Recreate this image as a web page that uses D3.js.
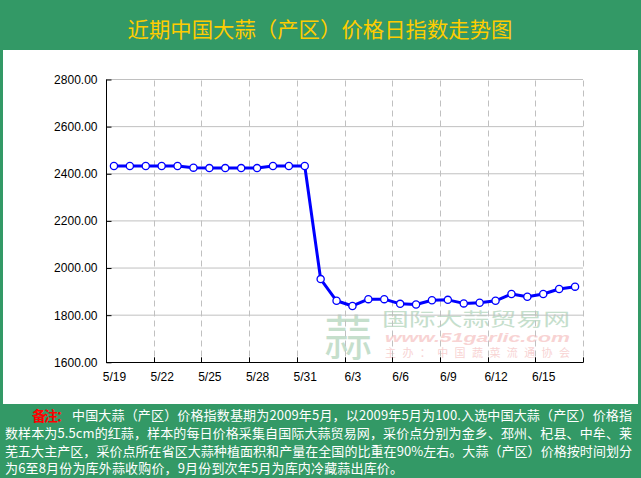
<!DOCTYPE html>
<html><head><meta charset="utf-8">
<script src="https://cdn.jsdelivr.net/npm/d3@7"></script>
<style>
html,body{margin:0;padding:0;background:#fff;}
svg{display:block;}
</style></head>
<body>
<script>
const titleText = "近期中国大蒜（产区）价格日指数走势图";
const dates = ["5/19","5/20","5/21","5/22","5/23","5/24","5/25","5/26","5/27","5/28","5/29","5/30","5/31",
  "6/1","6/2","6/3","6/4","6/5","6/6","6/7","6/8","6/9","6/10","6/11","6/12","6/13","6/14","6/15","6/16","6/17"];
const values = [2433,2433,2433,2433,2433,2426,2424,2424,2424,2424,2433,2433,2433,
  1953,1861,1839,1868,1868,1848,1845,1863,1865,1850,1853,1861,1890,1878,1890,1911,1921];
const xTickLabels = ["5/19","5/22","5/25","5/28","5/31","6/3","6/6","6/9","6/12","6/15"];
const yTicks = [1600,1800,2000,2200,2400,2600,2800];
const noteLabel = "备注：";
const noteLines = [
  "中国大蒜（产区）价格指数基期为2009年5月，以2009年5月为100.入选中国大蒜（产区）价格指",
  "数样本为5.5cm的红蒜，样本的每日价格采集自国际大蒜贸易网，采价点分别为金乡、邳州、杞县、中牟、莱",
  "芜五大主产区，采价点所在省区大蒜种植面积和产量在全国的比重在90%左右。大蒜（产区）价格按时间划分",
  "为6至8月份为库外蒜收购价，9月份到次年5月为库内冷藏蒜出库价。"
];

const W = 641, H = 478;
const green = "#339966";
const svg = d3.select("body").append("svg").attr("width", W).attr("height", H);
const cjk = "'Noto Sans CJK SC', sans-serif";
const latin = "'Liberation Sans', Arial, sans-serif";

// background frame
svg.append("rect").attr("x",0).attr("y",0).attr("width",W).attr("height",H).attr("fill",green);
svg.append("rect").attr("x",3).attr("y",50).attr("width",W-6).attr("height",354).attr("fill","#fff");

// title
svg.append("text").attr("x",320).attr("y",28).attr("text-anchor","middle")
  .attr("dominant-baseline","central")
  .attr("font-family",cjk).attr("font-size",21).attr("fill","#FFCC00")
  .attr("textLength",385).attr("lengthAdjust","spacingAndGlyphs")
  .text(titleText);

// scales
const x0 = 106, x1 = 583, yTop = 79.5, yBot = 362.3;
const xb = d3.scaleBand().domain(dates).range([x0,x1]).padding(0);
const xp = d3.scalePoint().domain(dates).range([x0,x1]).padding(0.5);
const y = d3.scaleLinear().domain([1600,2800]).range([yBot,yTop]);

// watermark
const wm = svg.append("g").attr("opacity",0.5);
wm.append("text").attr("x",348).attr("y",334).attr("text-anchor","middle").attr("dominant-baseline","central")
  .attr("font-family",cjk).attr("font-size",48).attr("fill","#8cc09a").text("蒜");
wm.append("text").attr("x",382).attr("y",318).attr("dominant-baseline","central")
  .attr("font-family",cjk).attr("font-size",18).attr("fill","#8cc09a")
  .attr("textLength",188).attr("lengthAdjust","spacingAndGlyphs").text("国际大蒜贸易网");
wm.append("text").attr("x",385).attr("y",337).attr("dominant-baseline","central")
  .attr("font-family",latin).attr("font-size",13).attr("font-style","italic").attr("font-weight","bold")
  .attr("fill","#f2a8a8").attr("textLength",185).attr("lengthAdjust","spacingAndGlyphs").text("www.51garlic.com");
wm.append("text").attr("x",385).attr("y",352).attr("dominant-baseline","central")
  .attr("font-family",cjk).attr("font-size",11).attr("fill","#f2a8a8")
  .attr("textLength",185).attr("lengthAdjust","spacing").text("主办：中国蔬菜流通协会");

// horizontal gridlines
svg.append("g").selectAll("line").data(yTicks.filter(v=>v>1600)).join("line")
  .attr("x1",x0).attr("x2",x1).attr("y1",d=>y(d)).attr("y2",d=>y(d))
  .attr("stroke","#c0c0c0").attr("stroke-width",1);

// vertical dashed gridlines at band boundaries
const vIdx = dates.map((d,i)=>i).filter(i=>i>0 && i%3===0);
const vPos = vIdx.map(i=>xb(dates[i])).concat([x1]);
svg.append("g").selectAll("line").data(vPos).join("line")
  .attr("x1",d=>Math.round(d)+0.5).attr("x2",d=>Math.round(d)+0.5).attr("y1",yTop+1).attr("y2",yBot)
  .attr("stroke","#c0c0c0").attr("stroke-width",1).attr("stroke-dasharray","6,4");

// inner ticks at bottom
svg.append("g").selectAll("line").data(vPos).join("line")
  .attr("x1",d=>Math.round(d)+0.5).attr("x2",d=>Math.round(d)+0.5).attr("y1",yBot-5).attr("y2",yBot)
  .attr("stroke","#000").attr("stroke-width",1);

// y axis
const yAxis = svg.append("g").attr("transform",`translate(${x0+0.5},0)`)
  .call(d3.axisLeft(y).tickValues(yTicks).tickFormat(d3.format(".2f")).tickSizeInner(-5).tickSizeOuter(0).tickPadding(9));
yAxis.select(".domain").remove();
yAxis.selectAll("text").attr("font-family",latin).attr("font-size",12).attr("fill","#000");
yAxis.selectAll("line").attr("stroke","#000");

// x axis labels
const xAxis = svg.append("g").attr("transform",`translate(0,${yBot})`)
  .call(d3.axisBottom(xp).tickValues(xTickLabels).tickSize(0).tickPadding(10));
xAxis.select(".domain").remove();
xAxis.selectAll("text").attr("font-family",latin).attr("font-size",12).attr("fill","#000");

// axis lines
svg.append("line").attr("x1",x0+0.5).attr("x2",x0+0.5).attr("y1",yTop).attr("y2",yBot).attr("stroke","#000");
svg.append("line").attr("x1",x0).attr("x2",x1+0.5).attr("y1",Math.round(yBot)+0.5).attr("y2",Math.round(yBot)+0.5).attr("stroke","#000");

// data line
const pts = dates.map((d,i)=>({d, v: values[i]}));
svg.append("path").datum(pts)
  .attr("d", d3.line().x(p=>xp(p.d)).y(p=>y(p.v)))
  .attr("fill","none").attr("stroke","#0000FF").attr("stroke-width",3).attr("stroke-linejoin","round");
svg.append("g").selectAll("circle").data(pts).join("circle")
  .attr("cx",p=>xp(p.d)).attr("cy",p=>y(p.v)).attr("r",3.6)
  .attr("fill","#fff").attr("stroke","#0000FF").attr("stroke-width",1.3);

// footer note
const lineY = [414.5, 432.5, 450.3, 467.8];
svg.append("text").attr("x",32).attr("y",lineY[0]).attr("dominant-baseline","central")
  .attr("font-family",cjk).attr("font-size",14).attr("font-weight","bold").attr("fill","#FF0000")
  .attr("textLength",38).attr("lengthAdjust","spacing").text(noteLabel);
const starts = [72, 5, 5, 5];
const lens = [560, 627, 627, 398];
noteLines.forEach((t,i)=>{
  svg.append("text").attr("x",starts[i]).attr("y",lineY[i]).attr("dominant-baseline","central")
    .attr("font-family",cjk).attr("font-size",13).attr("fill","#fff")
    .attr("textLength",lens[i]).attr("lengthAdjust","spacing").text(t);
});
</script>
</body></html>
